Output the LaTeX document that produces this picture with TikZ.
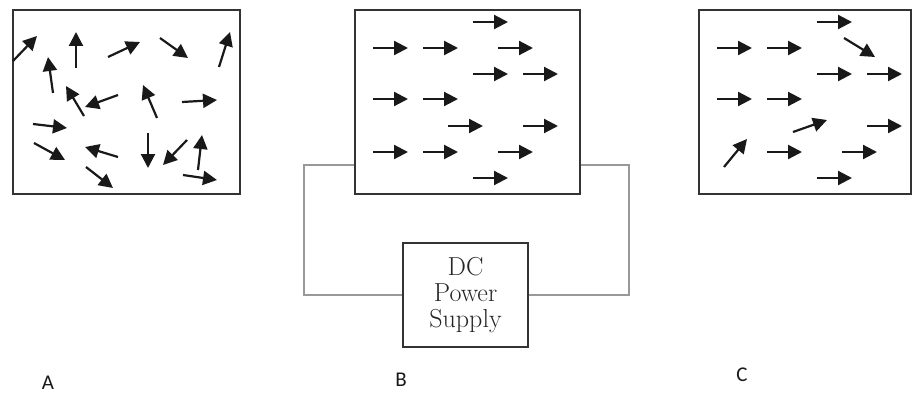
\documentclass[tikz,border=0pt]{standalone}
\usepackage{fontspec}
\newfontfamily\labfont{Carlito}
\usetikzlibrary{arrows.meta}
\tikzset{
  frame/.style={draw=black!80, line width=1.8pt, inner sep=0pt, anchor=north west},
  spin/.style={line width=2.2pt, -{Triangle[length=14pt,width=14pt]}, black!90},
  wire/.style={draw=black!40, line width=2.2pt},
  psbox/.style={draw=black!80, line width=1.8pt, minimum width=125pt, minimum height=104pt, inner sep=0pt, align=center, font=\fontsize{26}{26}\selectfont, text=black!85},
  lbl/.style={font=\labfont\fontsize{21}{22}\selectfont, text=black!90}
}
\begin{document}
\begin{tikzpicture}[x=1pt,y=-1pt]
\useasboundingbox (0,0) rectangle (912,396);
% boxes
\node[frame, minimum width=227pt, minimum height=184pt] (boxA) at (12,9) {};
\node[frame, minimum width=225pt, minimum height=184pt] (boxB) at (354,9) {};
\node[frame, minimum width=212pt, minimum height=184pt] (boxC) at (698,9) {};
\node[psbox] (ps) at (465.5,295) {DC\\Power\\Supply};
% wires
\coordinate (wl) at (304,165);
\coordinate (wr) at (629,165);
\draw[wire] (boxB.west |- wl) -- (wl) -- (wl |- ps.west) -- (ps.west);
\draw[wire] (boxB.east |- wr) -- (wr) -- (wr |- ps.east) -- (ps.east);
% box A arrows (random)
\draw[spin] (13,61) -- (37,36);
\draw[spin] (76,68) -- (76,32);
\draw[spin] (108,57) -- (140,42);
\draw[spin] (160,38) -- (188,58);
\draw[spin] (219,67) -- (230,32);
\draw[spin] (53,93) -- (48,57);
\draw[spin] (84,116) -- (66,86);
\draw[spin] (118,95) -- (85,107);
\draw[spin] (157,118) -- (143,85);
\draw[spin] (182,102) -- (217,100);
\draw[spin] (33,124) -- (67,128);
\draw[spin] (34,143) -- (65,160);
\draw[spin] (118,157) -- (85,147);
\draw[spin] (148,133) -- (148,168);
\draw[spin] (187,140) -- (163,165);
\draw[spin] (198,170) -- (202,135);
\draw[spin] (86,167) -- (113,188);
\draw[spin] (183,175) -- (217,180);
% box B arrows (aligned)
\foreach \x/\y in {473/22, 373/48, 423/48, 498/48, 473/74, 523/74, 373/99, 423/99, 448/126, 523/126, 373/152, 423/152, 498/152, 473/178}
  \draw[spin] (\x,\y) -- ++(35,0);
% box C arrows (mostly aligned)
\foreach \x/\y in {817/22, 717/48, 767/48, 817/74, 867/74, 717/99, 767/99, 867/126, 767/152, 842/152, 817/178}
  \draw[spin] (\x,\y) -- ++(35,0);
\draw[spin] (844,38) -- (875,57);
\draw[spin] (793,132) -- (827,120);
\draw[spin] (724,167) -- (747,139);
% labels
\node[lbl] (la) at (48,383) {A};
\node[lbl] (lb) at (401,380) {B};
\node[lbl] (lc) at (742,375) {C};
\end{tikzpicture}
\end{document}
